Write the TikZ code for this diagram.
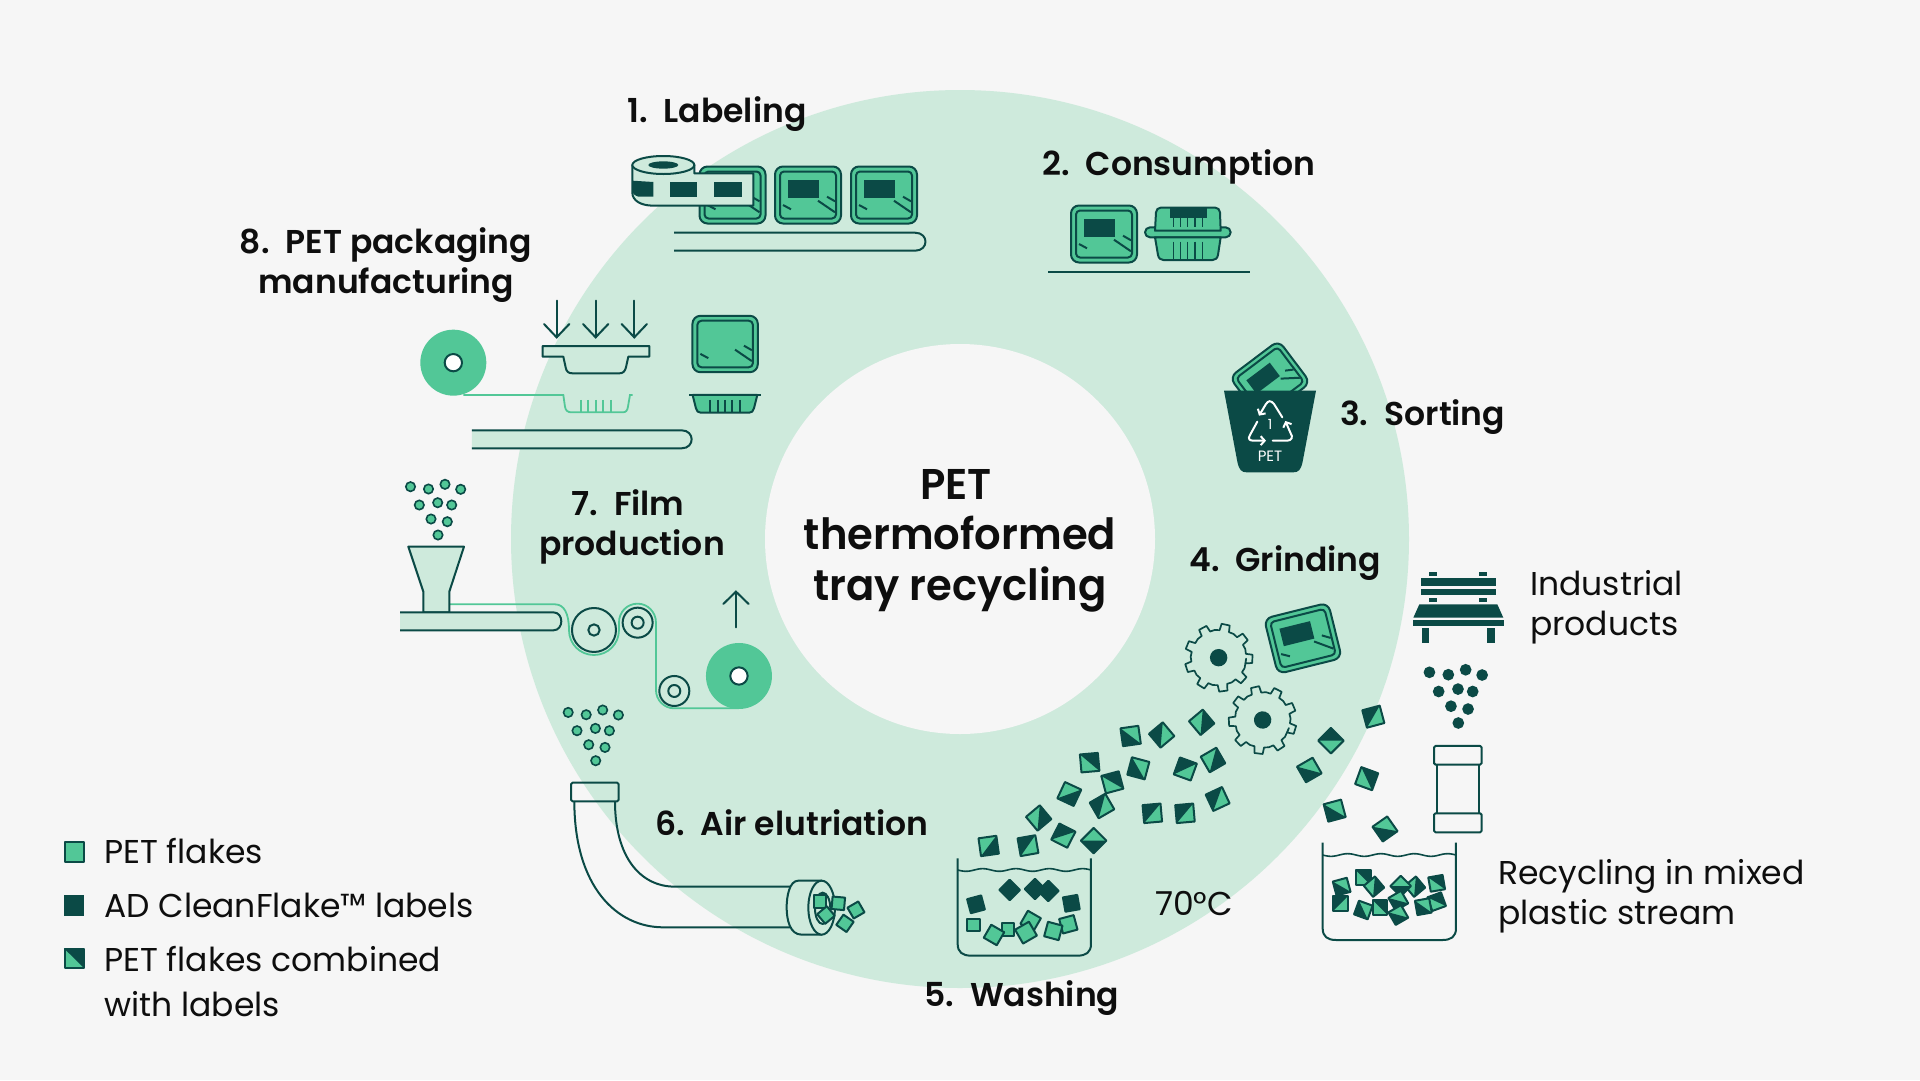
\documentclass[tikz,border=0pt]{standalone}
\usepackage{fontspec}
\usetikzlibrary{arrows.meta}
\setmainfont{Poppins}
\newfontfamily\hdfont{Poppins SemiBold}
\newfontfamily\ttlfont{Poppins SemiBold}[FakeStretch=0.97]
\definecolor{bgc}{HTML}{F6F6F6}
\definecolor{ringc}{HTML}{CEEADC}
\definecolor{midc}{HTML}{52C797}
\definecolor{darkc}{HTML}{0B4A46}
\definecolor{txtc}{HTML}{0E0E0E}
\tikzset{
  dk/.style={draw=darkc,line width=2pt,line join=round},
  gl/.style={draw=midc,line width=1.8pt},
  head/.style={font=\hdfont\fontsize{33}{33}\selectfont,text=txtc,inner sep=0pt},
  title/.style={font=\ttlfont\fontsize{43}{43}\selectfont,text=txtc,inner sep=0pt},
  body/.style={font=\fontsize{33}{33}\selectfont,text=txtc,inner sep=0pt},
  arr/.style={draw=darkc,line width=2pt,line cap=round},
}
% tray: x y rot scale extra
\newcommand{\traylab}{\fill[darkc] (-20.5,-15) rectangle (11,3);}
\newcommand{\tray}[5]{\begin{scope}[shift={(#1,#2)},rotate=#3,scale=#4,x=1pt,y=-1pt]
  \draw[dk,fill=midc,rounded corners=8pt] (-33,-28.5) rectangle (33,28.5);
  \draw[dk,rounded corners=4pt] (-28,-23.5) rectangle (28,23.5);
  #5
  \draw[dk] (-25,10) -- (-17,14.3);
  \draw[dk] (10,5.7) -- (27,17.3);
  \draw[dk] (19,1.7) -- (27,6.3);
\end{scope}}
% mixed flake: x y direction-of-dark side
\newcommand{\mflake}[4]{\begin{scope}[shift={(#1,#2)},rotate={#3-45},x=1pt,y=1pt]
  \pgfmathsetmacro{\hh}{#4/2}
  \fill[midc] (-\hh,-\hh) rectangle (\hh,\hh);
  \fill[darkc] (-\hh,\hh) -- (\hh,\hh) -- (\hh,-\hh) -- cycle;
  \draw[dk] (-\hh,-\hh) rectangle (\hh,\hh);
\end{scope}}
% plain flake: x y tilt side fill
\newcommand{\pflake}[5]{\begin{scope}[shift={(#1,#2)},rotate=#3,x=1pt,y=1pt]
  \pgfmathsetmacro{\hh}{#4/2}
  \draw[dk,fill=#5] (-\hh,-\hh) rectangle (\hh,\hh);
\end{scope}}
% pellets: x y colour radius scale
\newcommand{\pellets}[5]{\begin{scope}[shift={(#1,#2)},x=#5pt,y=-#5pt]
  \foreach \px/\py in {-27.5/-48.3,-9.5/-46,7/-50.7,22.7/-45.7,-18.7/-30,-0.3/-32.3,13.7/-30,-7/-16,9.3/-13.3,0/0}
    \draw[draw=darkc,line width=1.6pt,fill=#3] (\px,\py) circle[radius=#4/#5];
\end{scope}}
% gear: x y rot
\newcommand{\gear}[3]{\begin{scope}[shift={(#1,#2)},x=1pt,y=1pt,rotate=#3]
  \draw[dk,line width=1.7pt] (0:27.5) \foreach \a in {0,40,...,320}{ -- ({\a-10}:27.5) -- ({\a-7}:34) -- ({\a+7}:34) -- ({\a+10}:27.5) -- ({\a+20}:28)} -- cycle;
  \fill[darkc] (0,0) circle[radius=8.7];
\end{scope}}
% beaker in zoom-units: left top right bottom water
\newcommand{\beaker}[5]{
  \draw[dk] (#1,#2) -- (#1,#4-35) .. controls (#1,#4-10) and (#1+15,#4) .. (#1+40,#4) -- (#3-40,#4) .. controls (#3-15,#4) and (#3,#4-10) .. (#3,#4-35) -- (#3,#2);
  \draw[dk,line width=1.6pt] plot[domain=#1:#3,samples=70,smooth] (\x,{#5+4*sin((\x-#1)*3.6)});
}
\begin{document}
\begin{tikzpicture}[x=1pt,y=-1pt]
\useasboundingbox (0,0) rectangle (1920,1080);
\fill[bgc] (0,0) rectangle (1920,1080);
\fill[ringc] (960,539) circle[radius=449];
\fill[bgc] (960,539) circle[radius=195];

% ---- 1 labeling
\tray{732.5}{195}{0}{1}{\traylab}
\tray{808}{195}{0}{1}{\traylab}
\tray{884}{195}{0}{1}{\traylab}
\begin{scope}[shift={(625,150)},x=0.3333pt,y=-0.3333pt]
  \draw[dk,fill=ringc] (22,45) -- (22,128) .. controls (22,150) and (45,167) .. (85,167) -- (385,167) -- (385,70) -- (208,70) -- (208,45) -- cycle;
  \draw[dk,fill=ringc] (115,45) ellipse[x radius=93,y radius=27];
  \fill[darkc] (115,45) ellipse[x radius=45,y radius=11];
  \fill[darkc] (22,92) -- (85,96) -- (85,140) -- (40,140) .. controls (28,136) and (22,130) .. (22,125) -- cycle;
  \fill[darkc] (135,96) rectangle (217,140);
  \fill[darkc] (267,96) rectangle (350,140);
\end{scope}
\draw[dk,fill=ringc] (674,232.7) -- (915,232.7) .. controls (929,232.7) and (929,250.7) .. (915,250.7) -- (674,250.7);

% ---- 2 consumption
\tray{1104}{234}{0}{1}{\traylab}
\begin{scope}[shift={(1130,195)},x=0.3333pt,y=-0.3333pt]
  \draw[dk,fill=midc,rounded corners=5pt] (45,97) rectangle (302,127);
  \draw[dk,fill=midc] (75,107) -- (78,52) .. controls (79,44) and (84,38) .. (92,38) -- (256,38) .. controls (264,38) and (269,44) .. (270,52) -- (272,107) -- cycle;
  \fill[darkc] (120,38) rectangle (230,68);
  \foreach \rx in {130,152,173,195,217} {\draw[dk,line width=1.6pt] (\rx,68) -- (\rx,95);}
  \draw[dk,fill=midc] (75,127) -- (84,180) .. controls (86,190) and (92,195) .. (100,195) -- (248,195) .. controls (256,195) and (262,190) .. (264,180) -- (272,127) -- cycle;
  \foreach \rx in {130,152,173,195,217} {\draw[dk,line width=1.6pt] (\rx,140) -- (\rx,192);}
\end{scope}
\draw[dk] (1048,272) -- (1250,272);

% ---- 3 sorting
\begin{scope}[shift={(1200,320)},x=0.3333pt,y=-0.3333pt]
  \tray{210}{180}{37}{0.93}{\traylab}
  \fill[darkc] (72,212) -- (348,212) -- (308,425) .. controls (303,450) and (295,457) .. (280,457) -- (140,457) .. controls (125,457) and (117,450) .. (112,425) -- cycle;
  \draw[white,line width=2pt,line cap=round,-{Straight Barb[length=4pt,width=9pt]}] (247,292) -- (222,252) .. controls (212,240) and (205,242) .. (198,252) -- (177,287);
  \draw[white,line width=2pt,line cap=round,-{Straight Barb[length=4pt,width=9pt]}] (172,305) -- (150,345) .. controls (142,358) and (150,362) .. (160,362) -- (198,362);
  \draw[white,line width=2pt,line cap=round,-{Straight Barb[length=4pt,width=9pt]}] (218,362) -- (262,362) .. controls (275,362) and (280,350) .. (272,340) -- (256,303);
  \node[font=\fontsize{14}{14}\selectfont,text=white,inner sep=0pt] (recnum) at (210,313) {1};
  \node[font=\fontsize{15}{15}\selectfont,text=white,inner sep=0pt] (binpet) at (210,410) {PET};
\end{scope}

% ---- 4 / 5 flakes and gears
\begin{scope}[shift={(940,590)},x=0.3333pt,y=-0.3333pt]
  \gear{836}{203}{-2}
  \gear{968}{390}{-17}
  \tray{1089}{145}{14}{1}{\traylab}
  \foreach \fx/\fy/\fd in {146/768/-37,264/767/145,296/684/-5,370/737/108,461/752/270,388/612/290,486/648/165,449/518/50,517/577/60,572/438/233,665/435/175,595/535/210,736/537/115,785/397/-5,819/510/-15,637/670/140,735/670/140,833/627/160,1173/452/90,1108/540/255}
    {\mflake{\fx}{\fy}{\fd}{18}}
  \beaker{53}{805}{453}{1097}{840}
  \foreach \fx/\fy/\ft in {108/943/15,209/900/45,285/897/45,325/903/45,394/940/10}
    {\pflake{\fx}{\fy}{\ft}{14.5}{darkc}}
  \pflake{101}{1005}{0}{12.5}{midc}
  \pflake{204}{1018}{0}{12.5}{midc}
  \pflake{162}{1035}{-30}{15}{midc}
  \pflake{272}{993}{-30}{15}{midc}
  \pflake{258}{1028}{30}{16}{midc}
  \pflake{385}{1003}{15}{15}{midc}
  \pflake{340}{1023}{-15}{15}{midc}
\end{scope}

% ---- right side
\begin{scope}[shift={(1300,560)},x=0.3333pt,y=-0.3333pt]
  \foreach \fx/\fy/\fd in {220/470/150,200/656/25,104/752/240,255/807/260}
    {\mflake{\fx}{\fy}{\fd}{18}}
  \fill[darkc] (362,55) rectangle (588,79);
  \fill[darkc] (362,86) rectangle (588,106);
  \fill[darkc] (388,35) rectangle (412,48);
  \fill[darkc] (537,35) rectangle (562,48);
  \fill[darkc] (388,113) rectangle (412,127);
  \fill[darkc] (537,113) rectangle (562,127);
  \fill[darkc] (358,133) -- (592,133) -- (610,173) -- (340,173) -- cycle;
  \fill[darkc] (338,180) rectangle (612,198);
  \fill[darkc] (365,204) rectangle (388,250);
  \fill[darkc] (560,204) rectangle (585,250);
  \draw[dk,rounded corners=1.5pt] (402,558) rectangle (545,614);
  \draw[dk,rounded corners=1.5pt] (402,760) rectangle (545,817);
  \draw[dk] (412,614) -- (412,760);
  \draw[dk] (536,614) -- (536,760);
\end{scope}
\pellets{1458.3}{723}{darkc}{5}{1.05}

\begin{scope}[shift={(1300,830)},x=0.3333pt,y=-0.3333pt]
  \beaker{68}{38}{468}{330}{75}
  \foreach \fx/\fy/\fd in {125/170/240,122/220/135,190/143/45,222/170/-5,240/232/45,190/240/205,345/170/-5,302/168/270,295/212/255,295/255/255,410/215/65,370/230/235,410/160/55}
    {\mflake{\fx}{\fy}{\fd}{14.5}}
\end{scope}

% ---- 6 air elutriation
\pellets{595.7}{760.7}{midc}{4.7}{1}
\begin{scope}[shift={(540,700)},x=0.3333pt,y=-0.3333pt]
  \draw[dk,rounded corners=1.5pt] (93,248) rectangle (236,304);
  \draw[dk] (103,304) .. controls (103,560) and (230,682) .. (370,682) -- (750,682);
  \draw[dk] (225,304) .. controls (225,470) and (300,560) .. (405,560) -- (750,560);
  \draw[dk,fill=ringc] (775,542) .. controls (748,542) and (740,590) .. (740,622) .. controls (740,660) and (750,704) .. (785,704) -- (845,704) -- (845,542) -- cycle;
  \draw[dk,fill=ringc] (845,623) ellipse[x radius=40,y radius=81];
  \draw[dk] (848,625) ellipse[x radius=23,y radius=47];
  \pflake{840}{605}{0}{12.5}{midc}
  \pflake{895}{610}{-5}{12.5}{midc}
  \pflake{948}{630}{30}{12.5}{midc}
  \pflake{915}{670}{-35}{12.5}{midc}
  \pflake{858}{645}{40}{12.5}{midc}
\end{scope}

% ---- 7 film production
\pellets{438}{535}{midc}{4.7}{1}
\begin{scope}[shift={(390,470)},x=0.3333pt,y=-0.3333pt]
  \draw[gl] (180,403) -- (495,403) .. controls (522,403) and (537,430) .. (537,480) .. controls (537,522) and (570,555) .. (612,555) .. controls (654,555) and (687,522) .. (687,480) -- (687,458) .. controls (687,426) and (711,401) .. (743,401) .. controls (773,401) and (798,426) .. (798,458) -- (798,660) .. controls (798,690) and (822,715) .. (852,715) -- (1047,715);
  \draw[dk,fill=ringc] (55,230) -- (222,230) -- (178,365) -- (178,427) -- (100,427) -- (100,365) -- cycle;
  \draw[dk,fill=ringc] (30,427) -- (490,427) .. controls (522,427) and (522,481) .. (490,481) -- (30,481);
  \draw[dk] (612,480) circle[radius=66];
  \draw[dk] (612,480) circle[radius=17];
  \draw[dk] (743,458) circle[radius=45];
  \draw[dk] (743,458) circle[radius=18];
  \draw[dk] (853,663) circle[radius=45];
  \draw[dk] (853,663) circle[radius=18];
  \fill[midc] (1047,618) circle[radius=99];
  \draw[dk,fill=white] (1047,618) circle[radius=26];
  \draw[arr] (1038,472) -- (1038,365);
  \draw[arr] (1000,402) -- (1038,365) -- (1076,402);
\end{scope}

% ---- 8 packaging
\begin{scope}[shift={(400,290)},x=0.3333pt,y=-0.3333pt]
  \fill[midc] (160,218) circle[radius=99];
  \draw[dk,fill=white] (160,218) circle[radius=26];
  \draw[gl] (190,315) -- (490,315) -- (495,350) .. controls (497,362) and (503,367) .. (515,367) -- (668,367) .. controls (678,367) and (682,362) .. (684,350) -- (690,315) -- (698,315);
  \foreach \rx in {543,565,588,610,632} {\draw[gl] (\rx,330) -- (\rx,367);}
  \foreach \ax in {470,587,703} {
    \draw[arr] (\ax,32) -- (\ax,142);
    \draw[arr] (\ax-38,102) -- (\ax,142) -- (\ax+38,102);
  }
  \draw[dk,fill=ringc] (428,168) -- (748,168) -- (748,200) -- (685,200) -- (678,232) .. controls (675,245) and (668,250) .. (658,250) -- (518,250) .. controls (506,250) and (499,245) .. (497,232) -- (490,200) -- (428,200) -- cycle;
  \tray{975.5}{162}{0}{0.99}{}
  \draw[dk,fill=midc] (878,315) -- (888,355) .. controls (890,364) and (895,368) .. (902,368) -- (1048,368) .. controls (1055,368) and (1060,364) .. (1062,355) -- (1072,315) -- cycle;
  \draw[dk] (868,315) -- (1082,315);
  \foreach \rx in {931,953,975,997,1019} {\draw[dk] (\rx,330) -- (\rx,368);}
  \draw[dk,fill=ringc] (216,421) -- (845,421) .. controls (885,421) and (885,475) .. (845,475) -- (216,475);
\end{scope}

% ---- legend
\begin{scope}[shift={(50,820)},x=0.3333pt,y=-0.3333pt]
  \draw[dk,fill=midc] (44,67) rectangle (101,125);
  \fill[darkc] (42,225) rectangle (103,287);
  \fill[midc] (42,385) rectangle (103,445);
  \fill[darkc] (42,385) -- (103,385) -- (103,445) -- cycle;
  \draw[dk] (44,387) rectangle (101,443);
\end{scope}

% ---- texts
\node[head,anchor=base west] (t1) at (627,122) {1.\hspace{16pt}Labeling};
\node[head,anchor=base west] (t2) at (1042,175) {2.\hspace{16pt}Consumption};
\node[head,anchor=base west] (t3) at (1340,425) {3.\hspace{16pt}Sorting};
\node[head,anchor=base west] (t4) at (1189,571) {4.\hspace{16pt}Grinding};
\node[head,anchor=base west] (t5) at (924,1006) {5.\hspace{16pt}Washing};
\node[head,anchor=base west] (t6) at (655,835) {6.\hspace{16pt}Air elutriation};
\node[head,anchor=base] (t7a) at (628,515) {7.\hspace{16pt}Film};
\node[head,anchor=base] (t7b) at (632,555) {production};
\node[head,anchor=base] (t8a) at (386,253) {8.\hspace{16pt}PET packaging};
\node[head,anchor=base] (t8b) at (386,293) {manufacturing};
\node[title,anchor=base] (c1) at (956,499) {PET};
\node[title,anchor=base] (c2) at (960,549) {thermoformed};
\node[title,anchor=base] (c3) at (960,600) {tray recycling};
\node[body,anchor=base west] (r1) at (1530,595) {Industrial};
\node[body,anchor=base west] (r2) at (1530,635) {products};
\node[body,anchor=base west] (r3) at (1498,884) {Recycling in mixed};
\node[body,anchor=base west] (r4) at (1498,924) {plastic stream};
\node[body,anchor=base] (temp) at (1194,915) {70°C};
\node[body,anchor=base west] (l1) at (104,863) {PET flakes};
\node[body,anchor=base west] (l2) at (104,917) {AD CleanFlake™ labels};
\node[body,anchor=base west] (l3) at (104,971) {PET flakes combined};
\node[body,anchor=base west] (l4) at (104,1016) {with labels};
\end{tikzpicture}
\end{document}
